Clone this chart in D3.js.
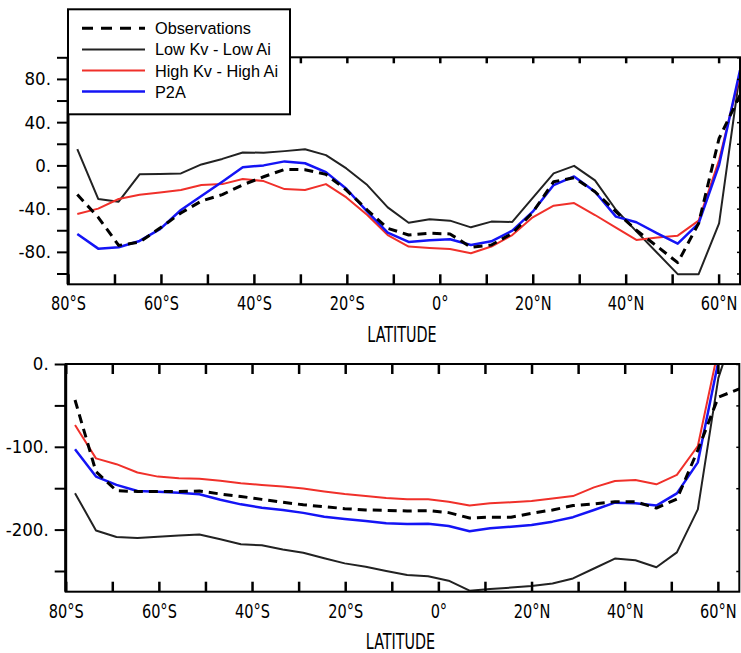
<!DOCTYPE html>
<html>
<head>
<meta charset="utf-8">
<script src="https://cdn.jsdelivr.net/npm/d3@7"></script>
<style>
  html, body { margin: 0; padding: 0; background: #ffffff; }
  svg { display: block; }
</style>
</head>
<body>
<script>
// Latitude grid (degrees, negative = south)
const latitudes = [-78, -73.5, -69.1, -64.6, -60.2, -55.7, -51.3, -46.8, -42.4, -37.9, -33.4,
  -29, -24.5, -20.1, -15.6, -11.2, -6.7, -2.2, 2.2, 6.7, 11.1, 15.6, 20, 24.5, 28.9, 33.4,
  37.9, 42.3, 46.8, 51.2, 55.7, 60.1, 64.6];

// Upper panel series
const upperObservations = [-27, -48, -74, -71, -58, -44, -33, -27, -18, -10.5, -3.7, -4, -8.3,
  -22.8, -41.3, -58.2, -64.4, -62.8, -63.4, -75.7, -73.6, -62.8, -43.5, -15.1, -11.4, -24.4,
  -42.8, -60, -75, -90, -53.6, 25, 65];
const upperLowKvLowAi = [15, -31, -33.6, -8.3, -8, -7.4, 0.9, 6, 12, 11.7, 13.2, 15, 9.5, -2.8,
  -18.2, -38.8, -53, -49.9, -51.1, -57.3, -52, -52.3, -30, -7.4, -0.4, -13.9, -41, -61, -81,
  -100.6, -100.6, -53.6, 86];
const upperHighKvHighAi = [-45, -40, -31.1, -27.1, -25, -22.8, -18.2, -17.3, -12.6, -14.5, -21.9,
  -22.8, -17.3, -29.6, -45.9, -64.4, -75.1, -76.4, -77.3, -81.3, -75.1, -64.4, -48, -37.3, -34.8,
  -45.9, -57.6, -69, -66.8, -65, -51.1, 4.9, 84];
const upperP2A = [-63.4, -77, -75.7, -69.9, -59, -41.3, -28.3, -15.1, -1.8, 0, 3.7, 2, -6.2, -21.6,
  -42.8, -62.2, -70.8, -69.3, -68.4, -73.6, -70.2, -60.4, -42.8, -18.2, -10.2, -24.4, -47.4,
  -52.6, -62.8, -72.4, -53.6, 0.3, 88];

// Lower panel series (null = no value drawn)
const lowerObservations = [-43.5, -130, -153, -154, -154, -154, -153.4, -157, -160, -163.5, -167,
  -170, -172.3, -174.7, -176.3, -176.8, -177.5, -177.1, -179.5, -186, -185, -185, -180.3, -176.3,
  -171, -169, -166.3, -166.3, -174, -163, -104, -40, -30];
const lowerLowKvLowAi = [-156, -201, -209, -210, -208.5, -207, -206, -211.7, -217.8, -219, -224,
  -228, -234.7, -240.8, -244.8, -250, -254.8, -256.4, -261.7, -273.8, -271.7, -270, -268, -265,
  -259, -247, -235, -237, -245.5, -227.5, -175.5, -17, 60];
const lowerHighKvHighAi = [-73.7, -114, -121, -131, -136, -138, -138.5, -141, -144, -146, -148,
  -150.5, -154, -157, -159.4, -161.8, -163.4, -163.4, -166.3, -171, -168.3, -167, -165.5, -162.3,
  -159.5, -149, -141.3, -140, -145.3, -134, -99, 18, null];
const lowerP2A = [-103, -136, -146, -153.4, -154.2, -155.4, -157.4, -164, -169.5, -173.5, -176.3,
  -179.8, -184.4, -187.2, -189.6, -192.4, -193.2, -192.9, -195.7, -202, -198.5, -196.5, -194.4,
  -190.4, -185, -176.3, -167.5, -168.3, -171, -156.2, -118.8, 3, null];

const seriesNames = ["Observations", "Low Kv - Low Ai", "High Kv - High Ai", "P2A"];

// Axis ticks and labels
const xTicks = [-80, -70, -60, -50, -40, -30, -20, -10, 0, 10, 20, 30, 40, 50, 60];
const xLabelled = [-80, -60, -40, -20, 0, 20, 40, 60];
const xTitle = "LATITUDE";
const upperYTicks = [100, 80, 60, 40, 20, 0, -20, -40, -60, -80, -100];
const upperYLabels = { "80": "80.", "40": "40.", "0": "0.", "-40": "-40.", "-80": "-80." };
const lowerYTicks = [0, -50, -100, -150, -200, -250];
const lowerYLabels = { "0": "0.", "-100": "-100.", "-200": "-200." };

const W = 741, H = 653;
const svg = d3.select("body").append("svg").attr("width", W).attr("height", H);

const styles = [
  { color: "#000000", width: 3, dash: "9,6" },
  { color: "#222222", width: 2, dash: null },
  { color: "#f0302a", width: 2, dash: null },
  { color: "#1414f5", width: 2.5, dash: null }
];

const tickFont = "'Liberation Sans Narrow', 'DejaVu Sans Condensed', 'Arial Narrow', sans-serif";

function latLabel(d) {
  if (d === 0) return "0°";
  return Math.abs(d) + "°" + (d < 0 ? "S" : "N");
}

function drawPanel(cfg) {
  const { left, right, top, bottom, yDomain, yTicks, yLabels, data, id, topTick } = cfg;
  const x = d3.scaleLinear().domain([-80, 64.6]).range([left, right]);
  const y = d3.scaleLinear().domain(yDomain).range([bottom, top]);
  const g = svg.append("g");

  g.append("clipPath").attr("id", id)
    .append("rect").attr("x", left).attr("y", top)
    .attr("width", right - left).attr("height", bottom - top);

  const line = d3.line()
    .defined(d => d[1] !== null)
    .x(d => x(d[0])).y(d => y(d[1]));

  // draw order: black, red, blue, then observations on top
  [1, 2, 3, 0].forEach(i => {
    const pts = latitudes.map((la, k) => [la, data[i][k]]);
    const p = g.append("path")
      .attr("clip-path", `url(#${id})`)
      .attr("d", line(pts))
      .attr("fill", "none")
      .attr("stroke", styles[i].color)
      .attr("stroke-width", styles[i].width)
      .attr("stroke-linejoin", "round");
    if (styles[i].dash) p.attr("stroke-dasharray", styles[i].dash);
  });

  // left axis, ticks pointing outward
  const ay = g.append("g").attr("transform", `translate(${left},0)`)
    .call(d3.axisLeft(y).tickValues(yTicks).tickSize(11).tickPadding(6)
      .tickFormat(d => yLabels[String(d)] || ""));
  ay.select(".domain").remove();
  ay.selectAll(".tick line").attr("stroke", "#000").attr("stroke-width", 2);
  ay.selectAll(".tick text")
    .attr("font-family", tickFont).attr("font-size", 18.5).attr("fill", "#000");

  // right axis, short inward ticks
  const ar = g.append("g").attr("transform", `translate(${right},0)`)
    .call(d3.axisRight(y).tickValues(yTicks).tickSize(-3).tickFormat(""));
  ar.select(".domain").remove();
  ar.selectAll(".tick line").attr("stroke", "#000").attr("stroke-width", 1.5);

  // bottom axis, inward ticks with labels
  const ab = g.append("g").attr("transform", `translate(0,${bottom})`)
    .call(d3.axisBottom(x).tickValues(xTicks).tickSize(-10)
      .tickFormat(d => xLabelled.includes(d) ? latLabel(d) : ""));
  ab.select(".domain").remove();
  ab.selectAll(".tick line").attr("stroke", "#000").attr("stroke-width", 2.5);
  ab.selectAll(".tick text")
    .attr("y", 26).attr("dy", 0)
    .attr("transform", "scale(0.85,1)")
    .attr("font-family", tickFont).attr("font-size", 19).attr("fill", "#000");

  // top axis, inward ticks
  const at = g.append("g").attr("transform", `translate(0,${top})`)
    .call(d3.axisTop(x).tickValues(xTicks).tickSize(-topTick).tickFormat(""));
  at.select(".domain").remove();
  at.selectAll(".tick line").attr("stroke", "#000").attr("stroke-width", 2.5);

  // frame
  g.append("rect").attr("x", left).attr("y", top)
    .attr("width", right - left).attr("height", bottom - top)
    .attr("fill", "none").attr("stroke", "#000").attr("stroke-width", 2);
  g.append("line").attr("x1", left).attr("x2", left).attr("y1", top).attr("y2", bottom)
    .attr("stroke", "#000").attr("stroke-width", 3);

  // axis title
  const cx = (left + right) / 2;
  g.append("text")
    .attr("transform", `translate(${cx - 2},${bottom + 57.5}) scale(0.76,1)`)
    .attr("text-anchor", "middle")
    .attr("font-family", tickFont).attr("font-size", 21).attr("fill", "#000")
    .text(xTitle);
}

drawPanel({
  id: "clipUpper", left: 68, right: 740, top: 57.3, bottom: 284.3,
  yDomain: [-110, 100], yTicks: upperYTicks, yLabels: upperYLabels, topTick: 6,
  data: [upperObservations, upperLowKvLowAi, upperHighKvHighAi, upperP2A]
});

drawPanel({
  id: "clipLower", left: 65.7, right: 739.3, top: 364, bottom: 591.7,
  yDomain: [-275, 0], yTicks: lowerYTicks, yLabels: lowerYLabels, topTick: 10,
  data: [lowerObservations, lowerLowKvLowAi, lowerHighKvHighAi, lowerP2A]
});

// legend box over the upper panel
const legend = svg.append("g");
legend.append("rect")
  .attr("x", 68).attr("y", 9.3).attr("width", 222).attr("height", 105)
  .attr("fill", "#ffffff").attr("stroke", "#000").attr("stroke-width", 2);
seriesNames.forEach((name, i) => {
  const yy = 28.3 + i * 21.1;
  const l = legend.append("line")
    .attr("x1", 82).attr("x2", 145).attr("y1", yy).attr("y2", yy)
    .attr("stroke", styles[i].color).attr("stroke-width", styles[i].width);
  if (styles[i].dash) l.attr("stroke-dasharray", "11,8").attr("stroke-dashoffset", 0);
  legend.append("text")
    .attr("x", 155).attr("y", yy + 6)
    .attr("font-family", "'Liberation Sans', Arial, sans-serif")
    .attr("font-size", 16.3).attr("fill", "#000")
    .text(name);
});
</script>
</body>
</html>
